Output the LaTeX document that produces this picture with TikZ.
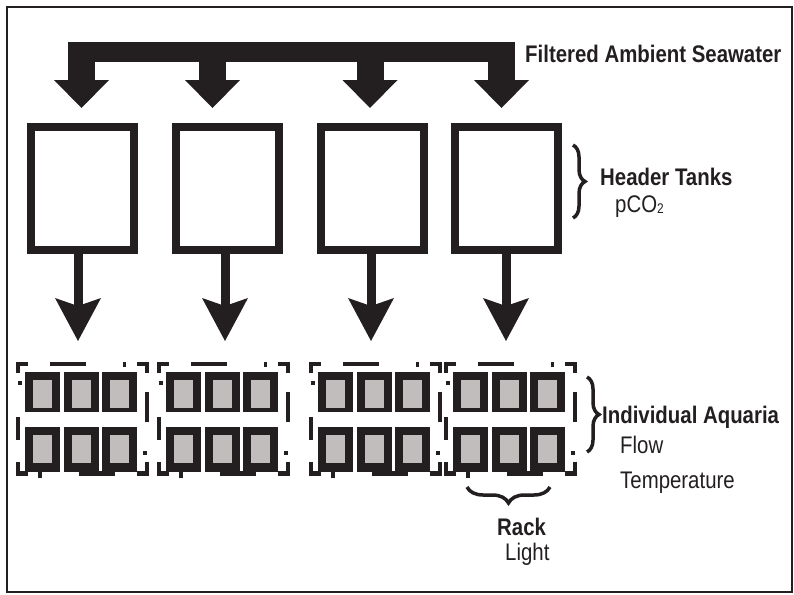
\documentclass[tikz,border=0pt]{standalone}
\usepackage{fontspec}
\setmainfont{Liberation Sans}[FakeStretch=0.85]
\usetikzlibrary{arrows.meta,decorations.pathreplacing}
\definecolor{ink}{HTML}{231F20}
\definecolor{tankgray}{HTML}{C1BDBD}
\tikzset{
  htank/.style={draw=ink, line width=8pt, minimum width=103pt, minimum height=123pt, inner sep=0pt},
  rackline/.style={draw=ink, line width=4.5pt, line join=miter},
  flowarrow/.style={draw=ink, line width=9pt, -{Stealth[length=43pt, width=46pt, inset=8pt, line width=0pt]}},
  bigbrace/.style={draw=ink, line width=3.5pt, decorate, decoration={brace, amplitude=12pt}},
  boldlabel/.style={anchor=base west, inner sep=0pt, text=ink, font=\bfseries\fontsize{24}{28}\selectfont},
  plainlabel/.style={anchor=base west, inner sep=0pt, text=ink, font=\fontsize{24}{28}\selectfont},
  rack/.pic={
    \foreach \dx in {7,45.5,84}{
      \fill[ink] (\dx,8) rectangle ++(35,40);
      \fill[tankgray] (\dx+8,16) rectangle ++(19,28);
      \fill[ink] (\dx,63) rectangle ++(35,45);
      \fill[tankgray] (\dx+8,71) rectangle ++(19,28);
    }
    \path[rackline] (0,9) -- (0,0) -- (10,0);
    \path[rackline] (32,0) -- (68,0);
    \fill[ink] (104.5,-2) rectangle (108,3);
    \path[rackline] (119,0) -- (129,0) -- (129,9);
    \path[rackline] (129,28) -- (129,58);
    \path[rackline] (125,89) -- (129,89);
    \path[rackline] (129,97.5) -- (129,109.5) -- (119,109.5);
    \path[rackline] (61,109.5) -- (97,109.5);
    \path[rackline] (22,108) -- (22,113.5);
    \path[rackline] (10,109.5) -- (0,109.5) -- (0,97.5);
    \path[rackline] (0,19) -- (4,19);
    \path[rackline] (0,53) -- (0,76);
  }
}
\begin{document}
\begin{tikzpicture}[x=1pt,y=-1pt]
\useasboundingbox (0,0) rectangle (794,594);
\draw[ink, line width=2pt] (7,7) rectangle (792,592);

% manifold of filtered seawater
\fill[ink] (68,42) rectangle (515,62);
\foreach \c in {81.5,212.5,370,501.5}{
  \fill[ink] (\c-13.5,61) rectangle (\c+13.5,81);
  \fill[ink] (\c-27.5,80) -- (\c+27.5,80) -- (\c,108) -- cycle;
}
\node[boldlabel] (fas) at (525,63) {Filtered Ambient Seawater};

% header tanks
\node[htank] (ht1) at (82.5,188.5) {};
\node[htank] (ht2) at (227.5,188.5) {};
\node[htank] (ht3) at (372,188.5) {};
\node[htank] (ht4) at (506,188.5) {};

\coordinate (d1) at (78,341);
\coordinate (d2) at (225,341);
\coordinate (d3) at (371,341);
\coordinate (d4) at (506,341);
\draw[flowarrow] (ht1.south -| d1) -- (d1);
\draw[flowarrow] (ht2.south -| d2) -- (d2);
\draw[flowarrow] (ht3.south -| d3) -- (d3);
\draw[flowarrow] (ht4.south -| d4) -- (d4);

\coordinate (hbT) at (573,145);
\coordinate (hbB) at (573,218);
\path[bigbrace] (hbT) -- (hbB);
\node[boldlabel] (htl) at (600,185) {Header Tanks};
\node[plainlabel] (pco) at (615,212) {pCO\raisebox{-1pt}{\fontsize{14}{14}\selectfont 2}};

% racks of individual aquaria
\pic at (18,364) {rack};
\pic at (159,364) {rack};
\pic at (311,364) {rack};
\pic at (446,364) {rack};

\coordinate (abT) at (587,377);
\coordinate (abB) at (587,452);
\path[bigbrace] (abT) -- (abB);
\node[boldlabel] (ial) at (602,423) {Individual Aquaria};
\node[plainlabel] (flw) at (620,453) {Flow};
\node[plainlabel] (tmp) at (620,488) {Temperature};

\coordinate (rbR) at (550,487);
\coordinate (rbL) at (467,487);
\path[bigbrace, decoration={brace, amplitude=16pt}] (rbR) -- (rbL);
\node[boldlabel] (rck) at (497,535) {Rack};
\node[plainlabel] (lgt) at (505,560) {Light};
\end{tikzpicture}
\end{document}
